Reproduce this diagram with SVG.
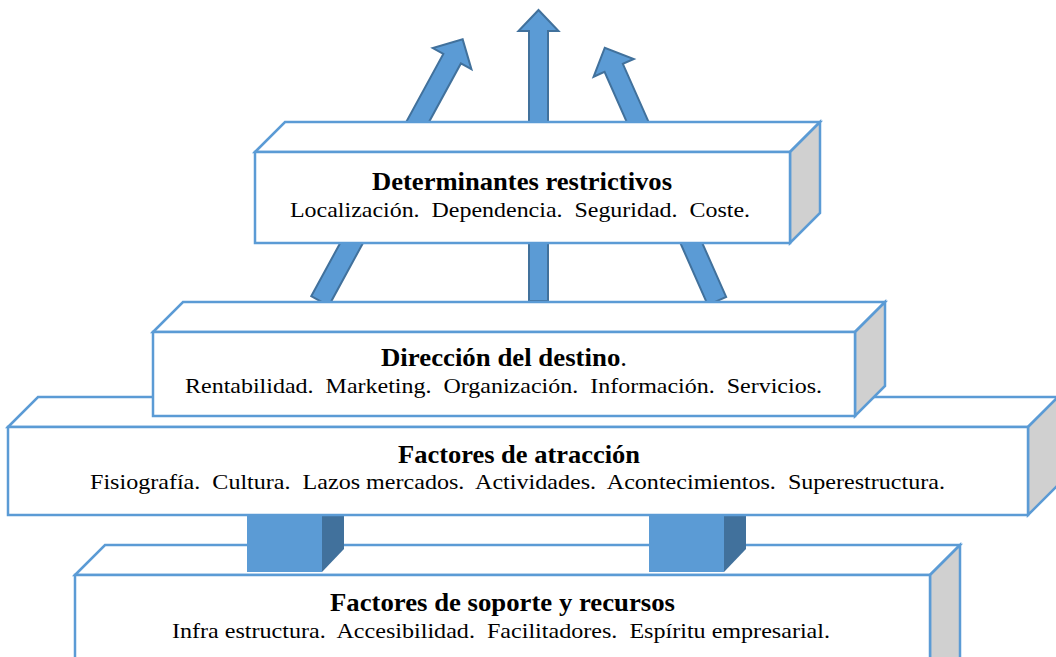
<svg xmlns="http://www.w3.org/2000/svg" width="1056" height="657" viewBox="0 0 1056 657">
<style>
.face{fill:#FFFFFF;stroke:#5B9BD5;stroke-width:2.5;stroke-linejoin:miter}
.side{fill:#D0D0D0;stroke:#5B9BD5;stroke-width:2.5}
.arrow{fill:#5B9BD5;stroke:#41719C;stroke-width:2}
.blk{fill:#5B9BD5}
.blkside{fill:#41719C}
.t{font-family:"Liberation Serif","Times New Roman",serif;font-size:25px;font-weight:bold;fill:#000;text-anchor:middle}
.s{font-family:"Liberation Serif","Times New Roman",serif;font-size:22px;fill:#000;text-anchor:middle;white-space:pre}
</style>
<rect width="1056" height="657" fill="#FFFFFF"/>
<g id="connectors">
  <path class="arrow" transform="translate(538.5,301)" d="M-9.5,0 L-9.5,-270 L-20,-270 L0,-291 L20,-270 L9.5,-270 L9.5,0 Z"/>
  <path class="arrow" transform="translate(320,301) rotate(28.6)" d="M-10,0 L-10,-276 L-22,-276 L0,-298 L22,-276 L10,-276 L10,0 Z"/>
  <path class="arrow" transform="translate(717,301) rotate(-23.9)" d="M-10,0 L-10,-255 L-22,-255 L0,-277 L22,-255 L10,-255 L10,0 Z"/>
</g>
<g id="node-soporte">
  <polygon class="face" points="75,575 105,545 960,545 930,575"/>
  <polygon class="side" points="930,575 960,545 960,670 930,700"/>
  <rect class="face" x="75" y="575" width="855" height="100"/>
  <text class="t" x="502.5" y="611" textLength="345" lengthAdjust="spacingAndGlyphs">Factores de soporte y recursos</text>
  <text class="s" x="501" y="638" textLength="658" lengthAdjust="spacingAndGlyphs" xml:space="preserve">Infra estructura.  Accesibilidad.  Facilitadores.  Espíritu empresarial.</text>
</g>
<g id="connectors-blocks">
  <rect class="blk" x="247" y="515" width="75" height="57"/>
  <polygon class="blkside" points="322,515 344,515 344,549 322,572"/>
  <rect class="blk" x="649" y="515" width="75" height="57"/>
  <polygon class="blkside" points="724,515 746,515 746,549 724,572"/>
</g>
<g id="node-atraccion">
  <polygon class="face" points="8,427 38,397 1058,397 1028,427"/>
  <polygon class="side" points="1028,427 1058,397 1058,485 1028,515"/>
  <rect class="face" x="8" y="427" width="1020" height="88"/>
  <text class="t" x="519" y="463" textLength="242" lengthAdjust="spacingAndGlyphs">Factores de atracción</text>
  <text class="s" x="517.5" y="489" textLength="855" lengthAdjust="spacingAndGlyphs" xml:space="preserve">Fisiografía.  Cultura.  Lazos mercados.  Actividades.  Acontecimientos.  Superestructura.</text>
</g>
<g id="node-direccion">
  <polygon class="face" points="153,332 183,302 885,302 855,332"/>
  <polygon class="side" points="855,332 885,302 885,386 855,416"/>
  <rect class="face" x="153" y="332" width="702" height="84"/>
  <text class="t" x="504" y="366" textLength="246" lengthAdjust="spacingAndGlyphs">Dirección del destino<tspan font-weight="normal">.</tspan></text>
  <text class="s" x="503.5" y="393" textLength="637" lengthAdjust="spacingAndGlyphs" xml:space="preserve">Rentabilidad.  Marketing.  Organización.  Información.  Servicios.</text>
</g>
<g id="node-determinantes">
  <polygon class="face" points="255,152 285,122 820,122 790,152"/>
  <polygon class="side" points="790,152 820,122 820,213 790,243"/>
  <rect class="face" x="255" y="152" width="535" height="91"/>
  <text class="t" x="522" y="190" textLength="300" lengthAdjust="spacingAndGlyphs">Determinantes restrictivos</text>
  <text class="s" x="520" y="217" textLength="460" lengthAdjust="spacingAndGlyphs" xml:space="preserve">Localización.  Dependencia.  Seguridad.  Coste.</text>
</g>
</svg>
